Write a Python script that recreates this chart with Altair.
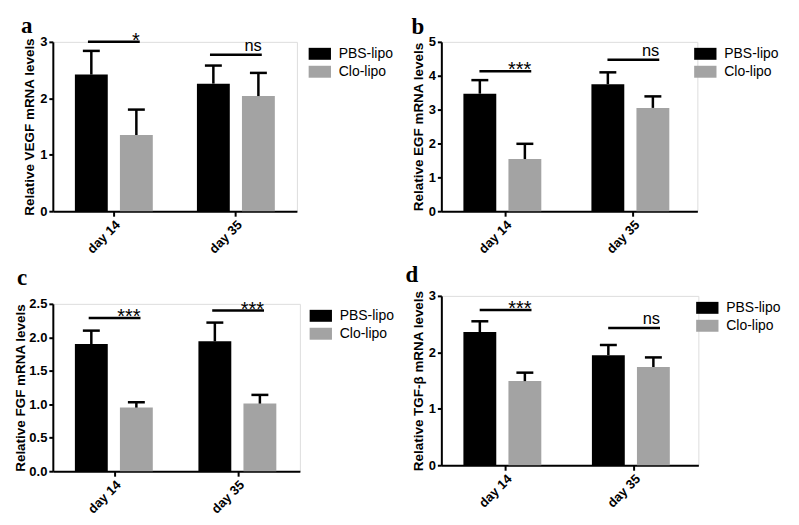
import altair as alt
import pandas as pd

groups = ["day 14", "day 35"]
treatments = ["PBS-lipo", "Clo-lipo"]
bar_colors = ["#000000", "#a3a3a3"]

# Panel a: VEGF
vegf_pbs = [2.42, 2.26]
vegf_pbs_err = [0.42, 0.32]
vegf_clo = [1.35, 2.04]
vegf_clo_err = [0.45, 0.41]
vegf_sig_y = [3.0, 2.77]
vegf_sig = ["*", "ns"]

# Panel b: EGF
egf_pbs = [3.47, 3.75]
egf_pbs_err = [0.40, 0.35]
egf_clo = [1.54, 3.05]
egf_clo_err = [0.45, 0.34]
egf_sig_y = [4.13, 4.47]
egf_sig = ["***", "ns"]

# Panel c: FGF
fgf_pbs = [1.90, 1.94]
fgf_pbs_err = [0.20, 0.28]
fgf_clo = [0.95, 1.01]
fgf_clo_err = [0.08, 0.13]
fgf_sig_y = [2.29, 2.40]
fgf_sig = ["***", "***"]

# Panel d: TGF-beta
tgf_pbs = [2.36, 1.95]
tgf_pbs_err = [0.19, 0.18]
tgf_clo = [1.49, 1.74]
tgf_clo_err = [0.15, 0.17]
tgf_sig_y = [2.75, 2.43]
tgf_sig = ["***", "ns"]

FONT = "Liberation Sans"


def panel(letter, ytitle, pbs, pbs_err, clo, clo_err, sig_y, sig, ymax, yvals, yfmt,
          width, height, legend_offset, letter_dx, letter_dy, title_pad=3):
    rows = []
    for i, g in enumerate(groups):
        rows.append({"group": g, "treatment": "PBS-lipo", "mean": pbs[i], "upper": pbs[i] + pbs_err[i]})
        rows.append({"group": g, "treatment": "Clo-lipo", "mean": clo[i], "upper": clo[i] + clo_err[i]})
    df = pd.DataFrame(rows)
    sdf = pd.DataFrame({"group": groups, "y": sig_y, "label": sig})
    ldf = pd.DataFrame({"t": [letter]})

    xscale = alt.Scale(domain=groups, paddingInner=0, paddingOuter=0)
    yscale = alt.Scale(domain=[0, ymax], nice=False, zero=True)
    xo = alt.XOffset("treatment:N", scale=alt.Scale(domain=treatments, paddingInner=0.27, paddingOuter=0.49))

    xaxis = alt.Axis(title=None, labelAngle=-45, labelFontSize=13, labelFontWeight="bold",
                     labelFont=FONT, labelColor="black", domainColor="black", domainWidth=2,
                     tickColor="black", tickWidth=2, tickSize=5, labelPadding=2, grid=False)
    yaxis = alt.Axis(title=ytitle, values=yvals, format=yfmt, labelFontSize=13, labelFontWeight="bold",
                     labelFont=FONT, labelColor="black", domainColor="black", domainWidth=2,
                     tickColor="black", tickWidth=2, tickSize=4, labelPadding=2, grid=False,
                     labelOverlap=False, labelFlush=False,
                     titleFont=FONT, titleFontSize=13.5, titleFontWeight="bold", titleColor="black",
                     titlePadding=title_pad)

    def X():
        return alt.X("group:N", scale=xscale, axis=xaxis, sort=groups)

    def Y(field):
        return alt.Y(field, scale=yscale, axis=yaxis, title=ytitle)

    bars = alt.Chart(df).mark_bar().encode(
        x=X(), xOffset=xo, y=Y("mean:Q"),
        color=alt.Color("treatment:N", scale=alt.Scale(domain=treatments, range=bar_colors),
                        legend=alt.Legend(title=None, orient="right", offset=legend_offset, padding=4,
                                          symbolType="M-1.4,-0.75H1.4V0.75H-1.4Z", symbolSize=256,
                                          symbolStrokeWidth=0, symbolOpacity=1, labelFontSize=14,
                                          labelFont=FONT, labelColor="black", labelOffset=11,
                                          rowPadding=3)),
    )
    err = alt.Chart(df).mark_rule(color="black", strokeWidth=2.5).encode(
        x=X(), xOffset=xo, y=Y("mean:Q"), y2="upper:Q",
    )
    cap = alt.Chart(df).mark_tick(color="black", size=17, thickness=2.5, opacity=1).encode(
        x=X(), xOffset=xo, y=Y("upper:Q"),
    )
    sigline = alt.Chart(sdf).mark_tick(color="black", size=52, thickness=2.5, opacity=1).encode(
        x=X(), y=Y("y:Q"),
    )
    stars = alt.Chart(sdf).transform_filter(alt.datum.label != "ns").mark_text(
        align="right", baseline="alphabetic", dx=26, dy=5, fontSize=20, font=FONT, color="black"
    ).encode(x=X(), y=Y("y:Q"), text="label:N")
    ns = alt.Chart(sdf).transform_filter(alt.datum.label == "ns").mark_text(
        align="right", baseline="alphabetic", dx=26, dy=-4, fontSize=16.5, font=FONT, color="black"
    ).encode(x=X(), y=Y("y:Q"), text="label:N")
    let = alt.Chart(ldf).mark_text(
        align="left", baseline="alphabetic", font="Liberation Serif", fontSize=23,
        fontWeight="bold", color="black"
    ).encode(x=alt.value(letter_dx), y=alt.value(letter_dy), text="t:N")

    return alt.layer(bars, err, cap, sigline, stars, ns, let).properties(width=width, height=height)


a = panel("a", "Relative VEGF mRNA levels", vegf_pbs, vegf_pbs_err, vegf_clo, vegf_clo_err,
          vegf_sig_y, vegf_sig, 3, [0, 1, 2, 3], "d", 245, 170, 11, -32, -9)
b = panel("b", "Relative EGF mRNA levels", egf_pbs, egf_pbs_err, egf_clo, egf_clo_err,
          egf_sig_y, egf_sig, 5, [0, 1, 2, 3, 4, 5], "d", 257, 170, -4, -30, -8)
c = panel("c", "Relative FGF mRNA levels", fgf_pbs, fgf_pbs_err, fgf_clo, fgf_clo_err,
          fgf_sig_y, fgf_sig, 2.5, [0, 0.5, 1.0, 1.5, 2.0, 2.5], ".1f", 248, 168, 9, -36, -19, 1)
d = panel("d", "Relative TGF-β mRNA levels", tgf_pbs, tgf_pbs_err, tgf_clo, tgf_clo_err,
          tgf_sig_y, tgf_sig, 3, [0, 1, 2, 3], "d", 258, 170, -3, -36, -14)

res = dict(x="independent", y="independent", color="independent")
col1 = alt.concat(a, c, columns=1, spacing=9, align="none").resolve_scale(**res).resolve_legend(
    color="independent")
col2 = alt.concat(b, d, columns=1, spacing=6, align="none").resolve_scale(**res).resolve_legend(
    color="independent")
chart = alt.hconcat(col1, col2, spacing=5).resolve_scale(**res).resolve_legend(
    color="independent"
).configure_view(stroke=None).configure(background="white")

chart.save("out.html", embed_options={"renderer": "svg", "actions": False})
